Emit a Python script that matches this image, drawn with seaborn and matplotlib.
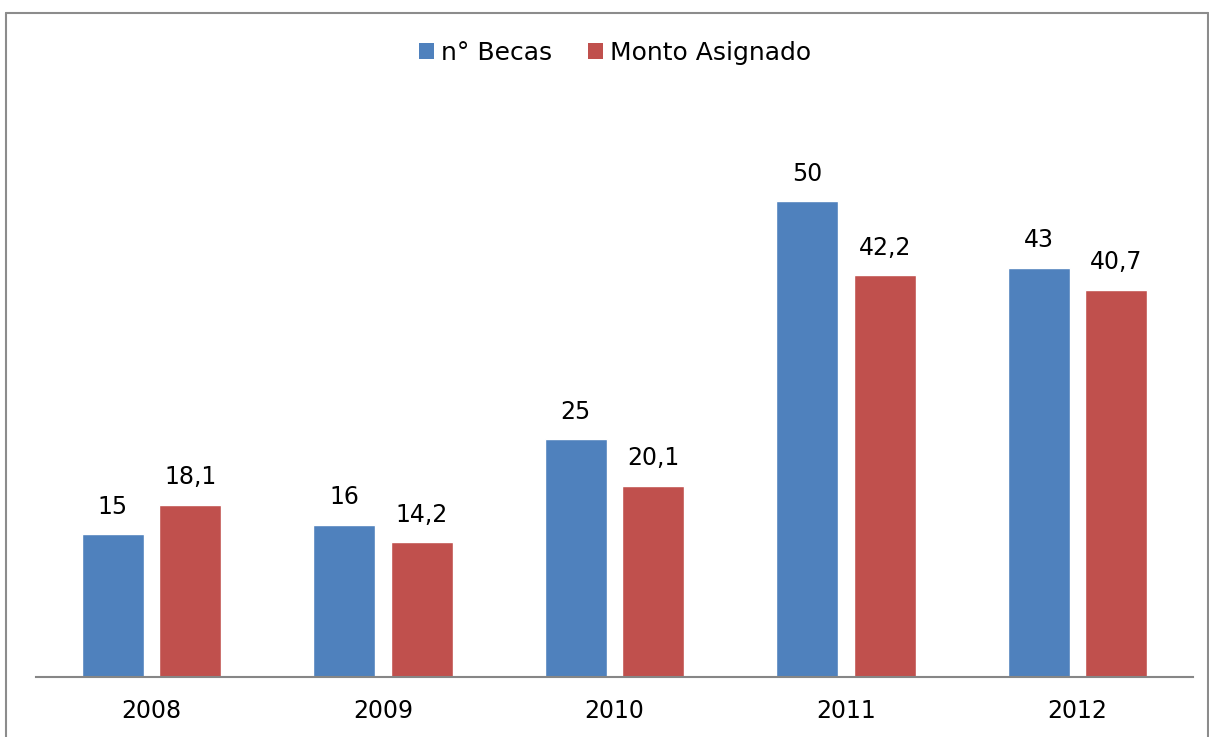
import matplotlib
matplotlib.use("Agg")
import matplotlib.pyplot as plt
import seaborn as sns
import pandas as pd
from matplotlib.lines import Line2D
from matplotlib.patches import Patch

years = ["2008", "2009", "2010", "2011", "2012"]
becas = [15, 16, 25, 50, 43]
monto = [18.1, 14.2, 20.1, 42.2, 40.7]
series_names = ["n° Becas", "Monto Asignado"]
colors = ["#4F81BD", "#C0504D"]

df = pd.DataFrame({
    "year": years * 2,
    "value": becas + monto,
    "serie": [series_names[0]] * len(years) + [series_names[1]] * len(years),
})

sns.set_theme(style="white")
plt.rcParams["font.family"] = ["DejaVu Sans"]

fig = plt.figure(figsize=(12.09, 7.37), dpi=100)
ax = fig.add_axes([36 / 1209, 1 - 677 / 737, (1193 - 36) / 1209, (677 - 105.8) / 737])

sns.barplot(data=df, x="year", y="value", hue="serie", palette=colors,
            width=0.67, gap=0.2, ax=ax, legend=False, saturation=1)

ax.set_ylim(0, 60)
ax.set_xlim(-0.5, len(years) - 0.5)
ax.set_ylabel("")
ax.set_xlabel("")
ax.set_yticks([])
for s in ["top", "right", "left"]:
    ax.spines[s].set_visible(False)
ax.spines["bottom"].set_color("#868686")
ax.spines["bottom"].set_linewidth(1.5)
ax.tick_params(axis="x", length=0, pad=16, labelsize=17, colors="black")

def fmt(v):
    if float(v).is_integer():
        return f"{int(v)}"
    return f"{v:.1f}".replace(".", ",")

for cont in ax.containers:
    ax.bar_label(cont, labels=[fmt(b.get_height()) for b in cont], padding=11,
                 fontsize=17, color="black")

handles = [Patch(facecolor=c, edgecolor="none") for c in colors]
fig.legend(handles, series_names, loc="center", bbox_to_anchor=(615 / 1209, 1 - 53 / 737),
           ncol=2, frameon=False, fontsize=18, handlelength=0.6, handleheight=0.6,
           handletextpad=0.3, columnspacing=1.4, labelcolor="black")

# figure border
border_color = "#8C8C8C"
fig.add_artist(Line2D([6 / 1209, 1208 / 1209], [1 - 13 / 737, 1 - 13 / 737],
                      transform=fig.transFigure, color=border_color, lw=1.5))
fig.add_artist(Line2D([6 / 1209, 6 / 1209], [1 - 13 / 737, 0],
                      transform=fig.transFigure, color=border_color, lw=1.5))
fig.add_artist(Line2D([1207.5 / 1209, 1207.5 / 1209], [1 - 13 / 737, 0],
                      transform=fig.transFigure, color=border_color, lw=1.5))

fig.savefig("out.png", dpi=100)
